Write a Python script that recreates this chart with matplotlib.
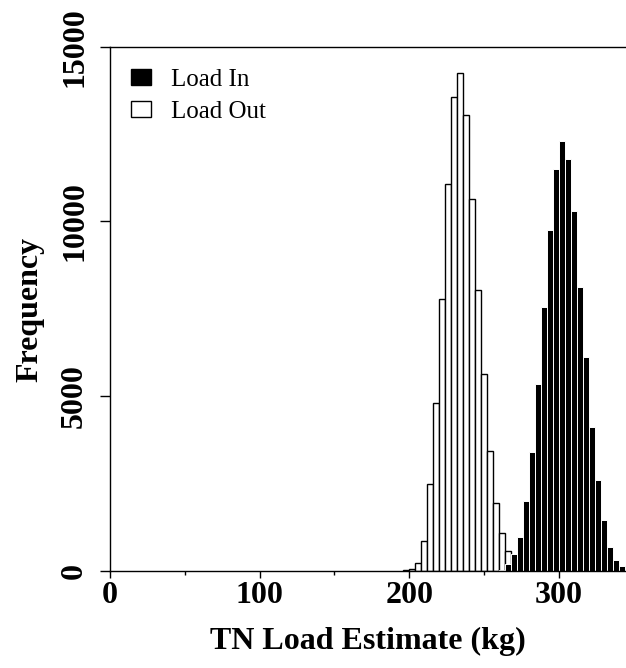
import matplotlib
matplotlib.use("Agg")
import matplotlib.pyplot as plt
from matplotlib.patches import Patch

plt.rcParams['font.family'] = ['Liberation Serif', 'DejaVu Serif']

# histogram bins (kg) and counts
out_edges = [196, 200, 204, 208, 212, 216, 220, 224, 228, 232, 236,
             240, 244, 248, 252, 256, 260, 264, 268, 272, 276]
out_counts = [30, 60, 240, 870, 2500, 4800, 7790, 11060, 13570, 14250,
              13060, 10630, 8050, 5650, 3440, 1950, 1080, 580, 200, 50]

in_edges = [260, 264, 268, 272, 276, 280, 284, 288, 292, 296, 300, 304,
            308, 312, 316, 320, 324, 328, 332, 336, 340, 344, 348]
in_counts = [30, 190, 486, 962, 2000, 3400, 5360, 7550, 9770, 11500,
             12300, 11790, 10310, 8120, 6120, 4120, 2600, 1460, 700, 310,
             140, 60]

x_ticks = [0, 100, 200, 300]
x_minor = [50, 150, 250]
y_ticks = [0, 5000, 10000, 15000]

fig = plt.figure(figsize=(6.26, 6.68), dpi=100)
ax = fig.add_axes([110 / 626, 1 - 571 / 668, 1 - 110 / 626, (571 - 46.7) / 668])

ax.hist(out_edges[:-1], bins=out_edges, weights=out_counts,
        facecolor='white', edgecolor='black', linewidth=1.0)
ax.hist(in_edges[:-1], bins=in_edges, weights=in_counts,
        facecolor='black', edgecolor='white', linewidth=0.7)

ax.set_xlim(0, 345)
ax.set_ylim(0, 15000)

ax.set_xticks(x_ticks)
ax.set_xticks(x_minor, minor=True)
ax.set_yticks(y_ticks)
ax.set_xticklabels([str(v) for v in x_ticks], fontsize=23, fontweight='bold')
ax.set_yticklabels([str(v) for v in y_ticks], fontsize=23, fontweight='bold',
                   rotation=90, va='center')
ax.tick_params(axis='x', which='major', direction='out', length=5, width=1, pad=2)
ax.tick_params(axis='x', which='minor', direction='out', length=3, width=1)
ax.tick_params(axis='y', which='major', direction='out', length=7, width=1, pad=8)
ax.spines['right'].set_visible(False)
for s in ['left', 'top', 'bottom']:
    ax.spines[s].set_linewidth(1.0)

fig.text(368 / 626, 1 - 641 / 668, 'TN Load Estimate (kg)', fontsize=23,
         fontweight='bold', ha='center', va='center')
fig.text(30 / 626, 1 - 309 / 668, 'Frequency', fontsize=23, fontweight='bold',
         rotation=90, ha='center', va='center')

handles = [Patch(facecolor='black', edgecolor='black', label='Load In'),
           Patch(facecolor='white', edgecolor='black', label='Load Out')]
ax.legend(handles=handles, loc='upper left', bbox_to_anchor=(0.04, 0.957),
          frameon=False, fontsize=18, handlelength=0.8, handleheight=0.6,
          handletextpad=0.8, labelspacing=0.38, borderaxespad=0, borderpad=0)

fig.savefig('out.png', dpi=100)
